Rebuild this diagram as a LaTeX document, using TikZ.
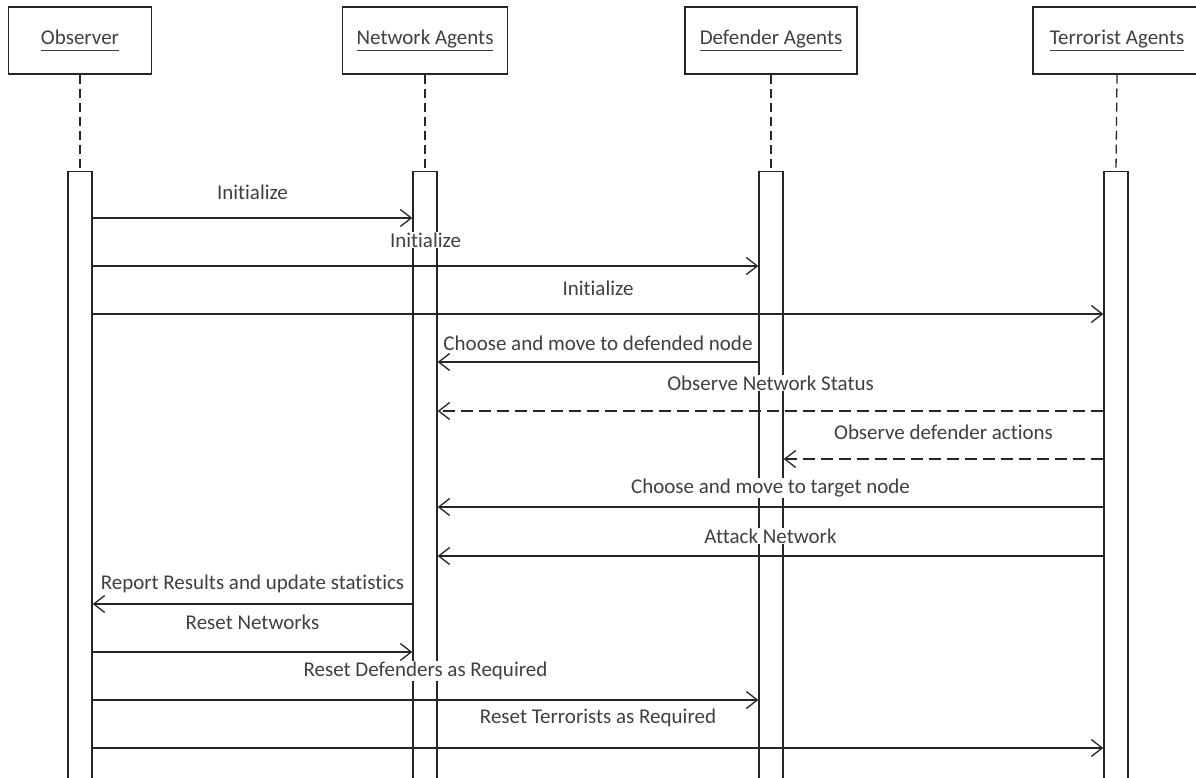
\documentclass[tikz,border=0pt]{standalone}
\usepackage{fontspec}
\setmainfont{Carlito}[Ligatures={NoCommon}]
\usetikzlibrary{arrows.meta, positioning}
\newcommand{\headname}[1]{\underline{\vphantom{Ag}#1}}
\tikzset{
    actor/.style={
        rectangle, draw=black!85, line width=1.3pt,
        minimum height=67pt, fill=white,
        font=\fontsize{21}{25}\selectfont, text=black!75
    },
    activation/.style={
        rectangle, draw=black!85, line width=1.3pt, anchor=north,
        minimum width=24pt, minimum height=630pt, fill=white
    },
    lifeline/.style={draw=black!85, line width=1.3pt, dash pattern=on 9pt off 5pt},
    call/.style={draw=black!85, line width=1.3pt, -{Straight Barb[length=11pt,width=17pt]}},
    reply/.style={call, dash pattern=on 12pt off 6pt},
    msglabel/.style={font=\fontsize{21}{25}\selectfont, text=black!75,
        fill=white, inner sep=1pt}
}

\begin{document}
\begin{tikzpicture}[x=1pt, y=-1pt]
\useasboundingbox (0,0) rectangle (1196,777);

% Participants
\node[actor, minimum width=143pt] (obs) at (80,40.5) {\headname{Observer}};
\node[actor, minimum width=165pt] (net) at (425,40.5) {\headname{Network Agents}};
\node[actor, minimum width=172pt] (def) at (771,40.5) {\headname{Defender Agents}};
\node[actor, minimum width=168pt] (ter) at (1117,40.5) {\headname{Terrorist Agents}};

% Activation bars
\node[activation] (obsact) at (80,171) {};
\node[activation] (netact) at (425,171) {};
\node[activation] (defact) at (771,171) {};
\node[activation] (teract) at (1116,171) {};

% Lifelines
\draw[lifeline] (obs.south) -- (obsact.north);
\draw[lifeline] (net.south) -- (netact.north);
\draw[lifeline] (def.south) -- (defact.north);
\draw[lifeline] (ter.south) -- (teract.north);

% Setup
\draw[call] (obsact.east |- 0,218) -- (netact.west |- 0,218)
    node[msglabel, midway, yshift=26pt] {Initialize};
\draw[call] (obsact.east |- 0,266) -- (defact.west |- 0,266)
    node[msglabel, midway, yshift=26pt] {Initialize};
\draw[call] (obsact.east |- 0,314) -- (teract.west |- 0,314)
    node[msglabel, midway, yshift=26pt] {Initialize};

% One round
\draw[call] (defact.west |- 0,362) -- (netact.east |- 0,362)
    node[msglabel, midway, yshift=19pt] {Choose and move to defended node};
\draw[reply] (teract.west |- 0,411) -- (netact.east |- 0,411)
    node[msglabel, midway, yshift=28pt] {Observe Network Status};
\draw[reply] (teract.west |- 0,459) -- (defact.east |- 0,459)
    node[msglabel, midway, yshift=27pt] {Observe defender actions};
\draw[call] (teract.west |- 0,507) -- (netact.east |- 0,507)
    node[msglabel, midway, yshift=19pt] {Choose and move to target node};
\draw[call] (teract.west |- 0,556) -- (netact.east |- 0,556)
    node[msglabel, midway, yshift=20pt] {Attack Network};
\draw[call] (netact.west |- 0,604) -- (obsact.east |- 0,604)
    node[msglabel, midway, yshift=20pt] {Report Results and update statistics};

% Reset
\draw[call] (obsact.east |- 0,652) -- (netact.west |- 0,652)
    node[msglabel, midway, yshift=30pt] {Reset Networks};
\draw[call] (obsact.east |- 0,700) -- (defact.west |- 0,700)
    node[msglabel, midway, yshift=29pt] {Reset Defenders as Required};
\draw[call] (obsact.east |- 0,748) -- (teract.west |- 0,748)
    node[msglabel, midway, yshift=30pt] {Reset Terrorists as Required};

\end{tikzpicture}
\end{document}
